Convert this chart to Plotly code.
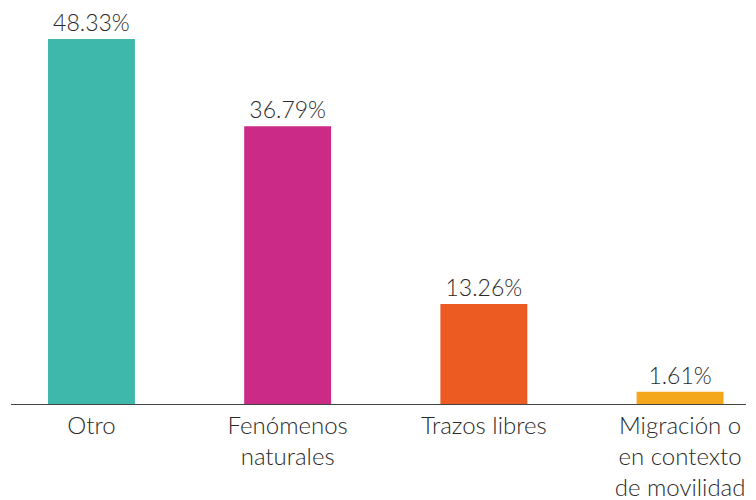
import plotly.graph_objects as go

categorias = ["Otro", "Fenómenos<br>naturales", "Trazos libres", "Migración o<br>en contexto<br>de movilidad"]
porcentajes = [48.33, 36.79, 13.26, 1.61]
colores = ["#3db8aa", "#cc2a87", "#ec5b22", "#f5a71c"]

FONT = "Lato, Noto Sans, sans-serif"

fig = go.Figure(go.Bar(
    x=categorias,
    y=porcentajes,
    width=0.443,
    marker=dict(color=colores, line=dict(width=0)),
    text=[f"{v:.2f}%" for v in porcentajes],
    textposition="outside",
    textfont=dict(family=FONT, size=23, color="#2a2a2a", weight=300),
    cliponaxis=False,
))

# la página añade 8px de margen al body: se compensa aquí
fig.update_layout(
    width=748, height=492,
    margin=dict(l=3, r=10, t=12, b=96),
    plot_bgcolor="white", paper_bgcolor="white",
    showlegend=False,
    font=dict(family=FONT, color="#2a2a2a"),
)
fig.update_xaxes(
    range=[-0.41, 3.336], automargin=False,
    showline=True, linecolor="#444444", linewidth=1,
    showgrid=False, ticks="",
    tickfont=dict(family=FONT, size=24, color="#2a2a2a", weight=300),
)
fig.update_yaxes(range=[0, 50.86], visible=False, showgrid=False, automargin=False)

fig.write_html("out.html")
